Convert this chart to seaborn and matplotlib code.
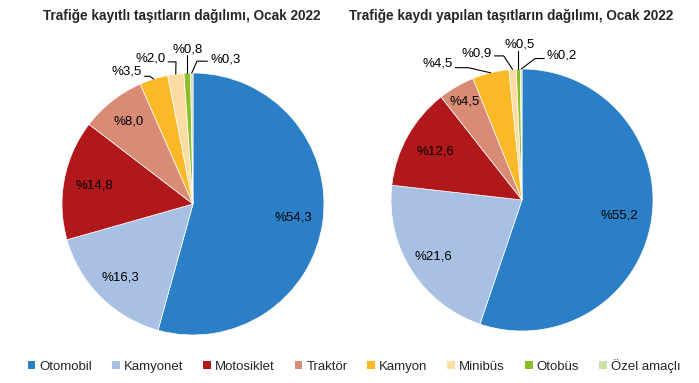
import numpy as np
import matplotlib
matplotlib.use("Agg")
import matplotlib.pyplot as plt
from matplotlib.patches import Patch
import seaborn as sns

categories = ["Otomobil", "Kamyonet", "Motosiklet", "Traktör", "Kamyon", "Minibüs", "Otobüs", "Özel amaçlı"]
registered = [54.3, 16.3, 14.8, 8.0, 3.5, 2.0, 0.8, 0.3]
transferred = [55.2, 21.6, 12.6, 4.5, 4.5, 0.9, 0.5, 0.2]
titles = ["Trafiğe kayıtlı taşıtların dağılımı, Ocak 2022",
          "Trafiğe kaydı yapılan taşıtların dağılımı, Ocak 2022"]
colors = ["#2A7FC6", "#A7C0E3", "#B0181C", "#D98B76", "#FBB927", "#FDDCA3", "#8DBE2A", "#CBE0A4"]

sns.set_theme(style="white")
plt.rcParams["font.family"] = ["Liberation Sans", "DejaVu Sans"]
palette = sns.color_palette(colors)

W, H = 699, 383
fig = plt.figure(figsize=(W / 100, H / 100), dpi=100)

def fmt(v):
    return "%" + f"{v:.1f}".replace(".", ",")

# styling per chart: inner label distance for first four wedges, outside label placement for last four
inner_dist = [[0.77, 0.79, 0.77, 0.80], [0.75, 0.80, 0.76, 0.87]]
# (text x, text y, ha, line y, elbow x) in pie radius units
outer = [
    [(-0.39, 1.01, "right", 0.975, -0.33),
     (-0.21, 1.11, "right", 1.085, -0.13),
     (-0.04, 1.18, "center", 1.14, None),
     (0.13, 1.10, "left", 1.09, 0.03)],
    [(-0.53, 1.04, "right", 1.01, -0.41),
     (-0.23, 1.12, "right", 1.10, -0.14),
     (-0.02, 1.19, "center", 1.14, None),
     (0.19, 1.10, "left", 1.08, 0.10)],
]
centers = [(193, 204), (522, 200)]
R = 131
title_x = [181.5, 511]

for k, vals in enumerate([registered, transferred]):
    cx, cy = centers[k]
    ax = fig.add_axes([(cx - R) / W, (H - cy - R) / H, 2 * R / W, 2 * R / H])
    wedges, _ = ax.pie(vals, colors=palette, startangle=90, counterclock=False,
                       wedgeprops=dict(linewidth=0.5, edgecolor="white"))
    ax.set_xlim(-1, 1)
    ax.set_ylim(-1, 1)
    ax.set_aspect("equal")
    total = sum(vals)
    cum = np.cumsum([0] + vals[:-1])
    mids = [np.deg2rad(90 - (c + v / 2) / total * 360) for c, v in zip(cum, vals)]
    for i in range(4):
        d = inner_dist[k][i]
        ax.text(d * np.cos(mids[i]), d * np.sin(mids[i]), fmt(vals[i]),
                ha="center", va="center", fontsize=9.5, color="black")
    for j, i in enumerate(range(4, 8)):
        tx, ty, ha, ly, ex = outer[k][j]
        px, py = np.cos(mids[i]), np.sin(mids[i])
        ax.text(tx, ty, fmt(vals[i]), ha=ha, va="center", fontsize=9.5, color="black", clip_on=False)
        if ex is None:
            xs, ys = [px, px], [py, ly]
        else:
            start = tx + (0.02 if ha == "right" else -0.02)
            xs, ys = [start, ex, px], [ly, ly, py]
        ax.plot(xs, ys, color="black", lw=0.8, clip_on=False)
    fig.text(title_x[k] / W, 1 - 16 / H, titles[k], ha="center", va="center",
             fontsize=9.85, fontweight="bold")

handles = [Patch(facecolor=c, edgecolor="none", label=l) for c, l in zip(palette, categories)]
fig.legend(handles=handles, loc="center", bbox_to_anchor=(354 / W, 1 - 366 / H), ncol=8,
           frameon=False, fontsize=9.5, handlelength=0.6, handleheight=0.6,
           handletextpad=0.3, columnspacing=1.5, borderaxespad=0)

fig.savefig("out.png", dpi=100)
